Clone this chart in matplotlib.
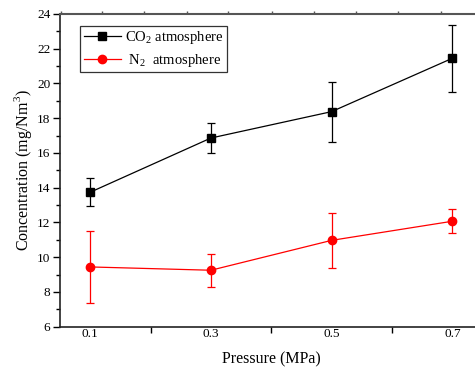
import matplotlib
matplotlib.use("Agg")
import matplotlib.pyplot as plt
from matplotlib.ticker import MultipleLocator, FixedLocator, NullFormatter
from matplotlib.lines import Line2D

plt.rcParams['font.family'] = ['Liberation Serif', 'DejaVu Serif']
plt.rcParams['mathtext.fontset'] = 'custom'
plt.rcParams['mathtext.rm'] = 'Liberation Serif'

pressure = [0.1, 0.3, 0.5, 0.7]
co2 = [13.74, 16.86, 18.38, 21.45]
co2_err_low = [0.79, 0.88, 1.73, 1.92]
co2_err_high = [0.80, 0.88, 1.71, 1.94]
n2 = [9.44, 9.25, 10.97, 12.07]
n2_err_low = [2.08, 0.96, 1.61, 0.69]
n2_err_high = [2.07, 0.95, 1.59, 0.69]

fig = plt.figure(figsize=(4.75, 3.74), dpi=100)
ax = fig.add_axes([60/475, (374-326.7)/374, (482.5-60)/475, (326.7-14)/374])

ax.errorbar(pressure, co2, yerr=[co2_err_low, co2_err_high], color='black',
            marker='s', markersize=5.2, linewidth=0.9, elinewidth=0.9,
            capsize=2.6, capthick=0.9)
ax.errorbar(pressure, n2, yerr=[n2_err_low, n2_err_high], color='#ff0000',
            marker='o', markersize=6, linewidth=0.9, elinewidth=0.9,
            capsize=2.6, capthick=0.9)

ax.set_xlim(0.05, 0.75)
ax.set_ylim(6, 24)
ax.set_xticks(pressure)
ax.set_xticklabels(['0.1', '0.3', '0.5', '0.7'])
ax.xaxis.set_minor_locator(FixedLocator([0.2, 0.4, 0.6]))
ax.yaxis.set_major_locator(MultipleLocator(2))
ax.yaxis.set_minor_locator(MultipleLocator(1))

ax.tick_params(axis='x', which='major', length=0, pad=1, labelsize=9.5, bottom=True, top=False)
ax.tick_params(axis='x', which='minor', length=4, width=1, direction='out', top=False)
ax.tick_params(axis='y', which='major', length=5, width=1, direction='out', labelsize=9.5, pad=2)
ax.tick_params(axis='y', which='minor', length=3, width=1, direction='out')

for s in ['left', 'bottom']:
    ax.spines[s].set_linewidth(1.2)
    ax.spines[s].set_color('#222222')
ax.spines['right'].set_visible(False)
ax.spines['top'].set_color('#555555')
ax.spines['top'].set_linewidth(1.5)

top = ax.secondary_xaxis('top')
top.set_xticks([0.051, 0.12, 0.189, 0.26, 0.329, 0.401, 0.471, 0.541, 0.61, 0.681])
top.xaxis.set_major_formatter(NullFormatter())
top.tick_params(length=2, width=1, direction='out', color='#555555')
top.spines['top'].set_visible(False)

ax.set_xlabel('Pressure (MPa)', fontsize=11.5, labelpad=8)
ax.set_ylabel('Concentration (mg/Nm$^3$)', fontsize=11.5, labelpad=2)

handles = [
    Line2D([], [], color='black', marker='s', markersize=5.2, linewidth=0.9),
    Line2D([], [], color='#ff0000', marker='o', markersize=6, linewidth=0.9),
]
labels = ['CO$_2$ atmosphere', ' N$_2$  atmosphere']
leg = ax.legend(handles, labels, loc='upper left', bbox_to_anchor=(0.047, 0.963),
                borderaxespad=0, fontsize=10.5,
                frameon=True, fancybox=False, edgecolor='black', handlelength=2.6,
                borderpad=0.25, labelspacing=0.38, handletextpad=0.25)
leg.get_frame().set_linewidth(0.9)

fig.savefig('out.png', dpi=100)
